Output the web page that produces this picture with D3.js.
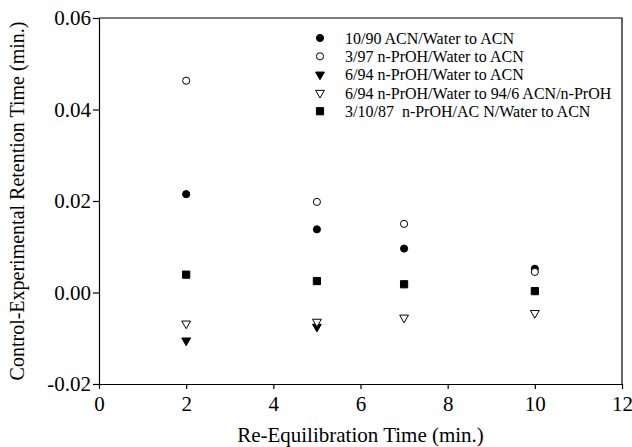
<!DOCTYPE html>
<html>
<head>
<meta charset="utf-8">
<script src="https://cdn.jsdelivr.net/npm/d3@7"></script>
<style>
  body { margin: 0; background: #fff; }
  svg text { font-family: "Liberation Serif", "Times New Roman", serif; fill: #000; }
</style>
</head>
<body>
<svg id="chart"></svg>
<script>
const WIDTH = 632;
const HEIGHT = 447;

// re-equilibration times (min.)
const times = [2, 5, 7, 10];

const seriesNames = [
  "10/90 ACN/Water to ACN",
  "3/97 n-PrOH/Water to ACN",
  "6/94 n-PrOH/Water to ACN",
  "6/94 n-PrOH/Water to 94/6 ACN/n-PrOH",
  "3/10/87  n-PrOH/AC N/Water to ACN"
];

const acnWater = [0.0215, 0.0138, 0.0096, 0.0052];
const prohWater = [0.0463, 0.0198, 0.0150, 0.0045];
const prohWaterAcn = [-0.0105, -0.0075, null, null];
const prohWaterMix = [-0.0068, -0.0064, -0.0055, -0.0045];
const prohAcnWater = [0.0039, 0.0025, 0.0018, 0.0003];

const xTicks = [0, 2, 4, 6, 8, 10, 12];
const yTicks = [-0.02, 0, 0.02, 0.04, 0.06];

const margin = { top: 18, right: 10, bottom: 63, left: 99 };

const svg = d3.select("#chart").attr("width", WIDTH).attr("height", HEIGHT);

const x = d3.scaleLinear().domain([0, 12]).range([margin.left, WIDTH - margin.right]);
const y = d3.scaleLinear().domain([-0.02, 0.06]).range([HEIGHT - margin.bottom, margin.top]);

// frame: top and right lines
svg.append("path")
  .attr("d", `M${x(0)},${y(0.06)}H${x(12)}V${y(-0.02)}`)
  .attr("fill", "none")
  .attr("stroke", "#000")
  .attr("stroke-width", 1.2);

const xAxis = svg.append("g")
  .attr("transform", `translate(0, ${y(-0.02)})`)
  .call(d3.axisBottom(x).tickValues(xTicks).tickFormat(d3.format("d")).tickSize(5).tickSizeOuter(0));

const yAxis = svg.append("g")
  .attr("transform", `translate(${x(0)}, 0)`)
  .call(d3.axisLeft(y).tickValues(yTicks).tickFormat((d) => d3.format(".2f")(d).replace("−", "-")).tickSize(6).tickSizeOuter(0));

[xAxis, yAxis].forEach((g) => {
  g.select(".domain").attr("stroke-width", 1.2);
  g.selectAll(".tick line").attr("stroke-width", 1.2);
  g.selectAll(".tick text").attr("font-size", "21px").attr("font-family", "Liberation Serif");
});
xAxis.selectAll(".tick text").attr("dy", "0.9em");
yAxis.selectAll(".tick text").attr("x", -8);

// axis titles
svg.append("text")
  .attr("x", (x(0) + x(12)) / 2)
  .attr("y", 442)
  .attr("text-anchor", "middle")
  .attr("font-size", "21px")
  .text("Re-Equilibration Time (min.)");

svg.append("text")
  .attr("transform", `translate(24, ${(y(-0.02) + y(0.06)) / 2}) rotate(-90)`)
  .attr("text-anchor", "middle")
  .attr("font-size", "20px")
  .text("Control-Experimental Retention Time (min.)");

// symbols
const circleSym = d3.symbol().type(d3.symbolCircle).size(40);
const squareSym = d3.symbol().type(d3.symbolSquare).size(52);
const triSym = d3.symbol().type(d3.symbolTriangle).size(34);

const styles = [
  { values: acnWater, sym: circleSym, fill: "#000", rot: 0 },
  { values: prohWater, sym: circleSym, fill: "#fff", rot: 0 },
  { values: prohWaterAcn, sym: triSym, fill: "#000", rot: 180 },
  { values: prohWaterMix, sym: triSym, fill: "#fff", rot: 180 },
  { values: prohAcnWater, sym: squareSym, fill: "#000", rot: 0 }
];

styles.forEach((s) => {
  const pts = times.map((t, i) => ({ t, v: s.values[i] })).filter((d) => d.v !== null);
  svg.append("g")
    .selectAll("path")
    .data(pts)
    .join("path")
    .attr("d", s.sym())
    .attr("transform", (d) => `translate(${x(d.t)}, ${y(d.v)}) rotate(${s.rot})`)
    .attr("fill", s.fill)
    .attr("stroke", "#000")
    .attr("stroke-width", 1);
});

// legend
const legend = svg.append("g").attr("transform", "translate(320, 38)");
styles.forEach((s, i) => {
  const row = legend.append("g").attr("transform", `translate(0, ${i * 18.3})`);
  row.append("path")
    .attr("d", s.sym())
    .attr("transform", `rotate(${s.rot})`)
    .attr("fill", s.fill)
    .attr("stroke", "#000")
    .attr("stroke-width", 1);
  row.append("text")
    .attr("x", 25)
    .attr("dy", "0.35em")
    .attr("font-size", "16px")
    .style("white-space", "pre")
    .text(seriesNames[i]);
});
</script>
</body>
</html>
